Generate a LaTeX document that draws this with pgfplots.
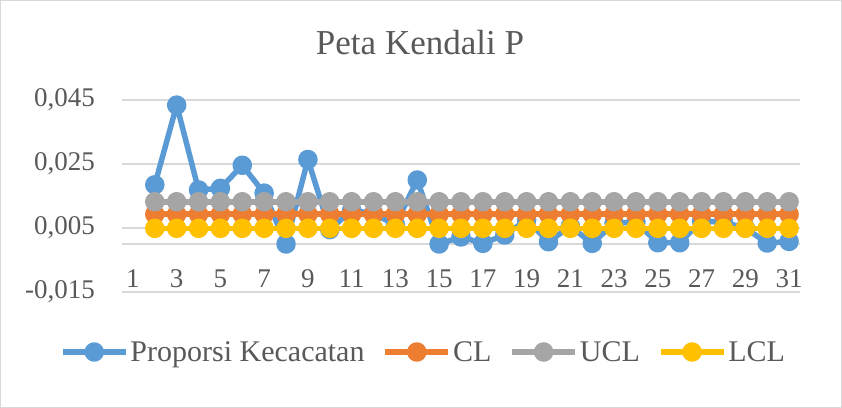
\documentclass[border=0pt]{standalone}
\usepackage{pgfplots}
\pgfplotsset{compat=1.18}
\usepackage{pgfplotstable}
\usepackage{fontspec}
\setmainfont{Liberation Serif}
\definecolor{cblue}{HTML}{5B9BD5}
\definecolor{corange}{HTML}{ED7D31}
\definecolor{cgray}{HTML}{A5A5A5}
\definecolor{cyellow}{HTML}{FFC000}
\definecolor{ctext}{HTML}{595959}
\definecolor{cgrid}{HTML}{D9D9D9}
\pgfplotstableread{
x p cl ucl lcl
2 0.0185 0.0093 0.0132 0.0049
3 0.0434 0.0093 0.0132 0.0049
4 0.0169 0.0093 0.0132 0.0049
5 0.0174 0.0093 0.0132 0.0049
6 0.0246 0.0093 0.0132 0.0049
7 0.0159 0.0093 0.0132 0.0049
8 0.0000 0.0093 0.0132 0.0049
9 0.0264 0.0093 0.0132 0.0049
10 0.0045 0.0093 0.0132 0.0049
11 0.0105 0.0093 0.0132 0.0049
12 0.0095 0.0093 0.0132 0.0049
13 0.0060 0.0093 0.0132 0.0049
14 0.0200 0.0093 0.0132 0.0049
15 0.0000 0.0093 0.0132 0.0049
16 0.0022 0.0093 0.0132 0.0049
17 0.0002 0.0093 0.0132 0.0049
18 0.0028 0.0093 0.0132 0.0049
19 0.0075 0.0093 0.0132 0.0049
20 0.0007 0.0093 0.0132 0.0049
21 0.0055 0.0093 0.0132 0.0049
22 0.0002 0.0093 0.0132 0.0049
23 0.0065 0.0093 0.0132 0.0049
24 0.0068 0.0093 0.0132 0.0049
25 0.0004 0.0093 0.0132 0.0049
26 0.0004 0.0093 0.0132 0.0049
27 0.0072 0.0093 0.0132 0.0049
28 0.0068 0.0093 0.0132 0.0049
29 0.0050 0.0093 0.0132 0.0049
30 0.0003 0.0093 0.0132 0.0049
31 0.0008 0.0093 0.0132 0.0049
}\chartdata
\begin{document}
\begin{tikzpicture}
\path[use as bounding box] (0bp,0bp) rectangle (842bp,408bp);
\draw[cgrid, line width=1bp] (0.5bp,0.5bp) rectangle (841.5bp,407.5bp);
\node[font=\fontsize{35bp}{40bp}\selectfont, text=ctext, anchor=base] at (420bp,353bp) {Peta Kendali P};
\begin{axis}[
  at={(122bp,116bp)}, anchor=south west,
  width=678bp, height=192bp, scale only axis,
  xmin=0.5, xmax=31.5, ymin=-0.015, ymax=0.045,
  axis line style={draw=none},
  major tick length=0pt,
  xtick={1,3,...,31},
  ytick={-0.015,0.005,0.025,0.045},
  yticklabels={{-0,015},{0,005},{0,025},{0,045}},
  scaled y ticks=false,
  ymajorgrids, grid style={cgrid, line width=1.5bp},
  extra y ticks={0}, extra y tick labels={}, extra y tick style={grid=major},
  /pgf/number format/assume math mode=true,
  tick label style={font=\fontsize{27bp}{32bp}\selectfont, text=ctext},
  xticklabel style={anchor=base, yshift=4bp},
  yticklabel style={inner sep=0pt, xshift=-27bp},
  legend style={at={(0.4447,-0.3125)}, anchor=center, draw=none, fill=none,
    legend columns=4, font=\fontsize{30bp}{34bp}\selectfont, text=ctext,
    /tikz/every even column/.append style={column sep=16bp},
    nodes={inner sep=2bp}},
  legend image code/.code={\draw[#1, mark repeat=2, mark phase=2] plot coordinates {(0bp,0bp) (31.5bp,0bp) (63bp,0bp)};},
  every axis plot/.append style={line width=5.5bp, line join=round, mark=*, mark size=7bp, mark options={solid, line width=0.5bp}},
  clip=false,
]
\addplot[cblue, mark options={fill=cblue}] table[x=x,y=p]{\chartdata};
\addlegendentry{Proporsi Kecacatan}
\addplot[corange, mark options={fill=corange}] table[x=x,y=cl]{\chartdata};
\addlegendentry{CL}
\addplot[cgray, mark options={fill=cgray}] table[x=x,y=ucl]{\chartdata};
\addlegendentry{UCL}
\addplot[cyellow, mark options={fill=cyellow}] table[x=x,y=lcl]{\chartdata};
\addlegendentry{LCL}
\end{axis}
\end{tikzpicture}
\end{document}
